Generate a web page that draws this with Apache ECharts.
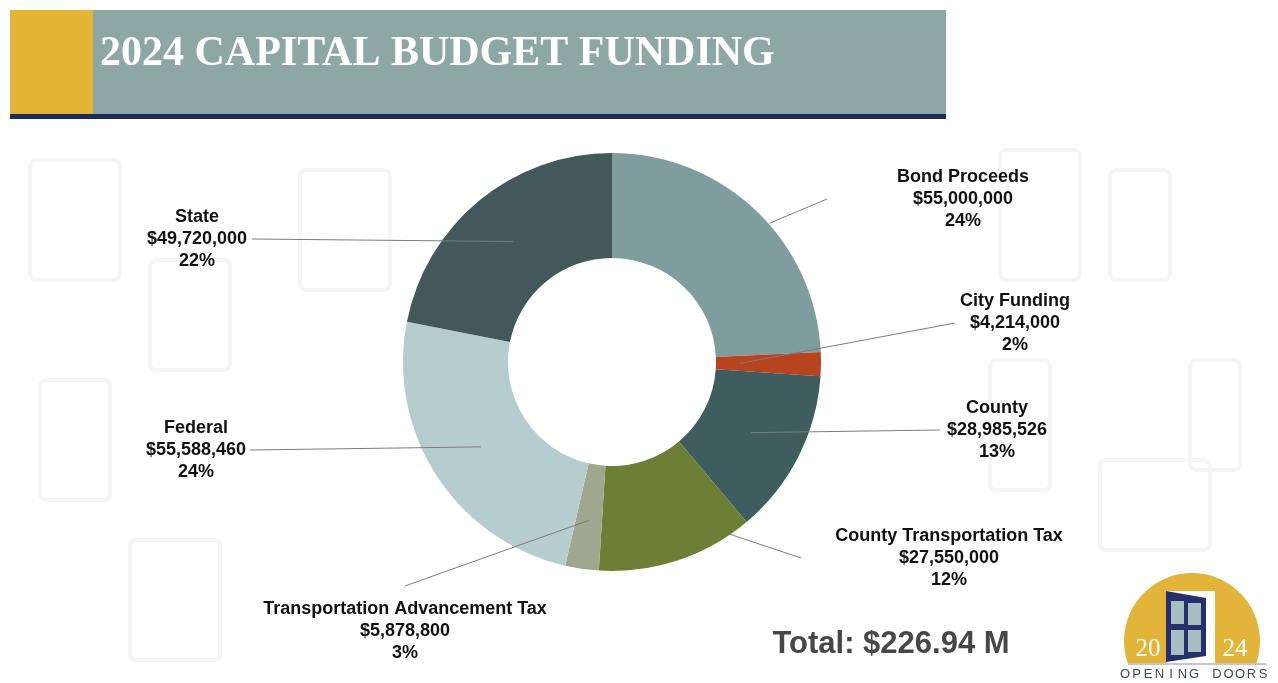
<!DOCTYPE html>
<html>
<head>
<meta charset="utf-8">
<title>2024 Capital Budget Funding</title>
<script src="https://cdn.jsdelivr.net/npm/echarts@6/dist/echarts.min.js"></script>
<style>
  html, body { margin: 0; padding: 0; background: #ffffff; }
  #chart { width: 1278px; height: 683px; }
</style>
</head>
<body>
<div id="chart"></div>
<script>
// Funding sources, clockwise from twelve o'clock
const sources = [
  'Bond Proceeds',
  'City Funding',
  'County',
  'County Transportation Tax',
  'Transportation Advancement Tax',
  'Federal',
  'State'
];
const amounts = [55000000, 4214000, 28985526, 27550000, 5878800, 55588460, 49720000];
const totalText = 'Total: $226.94 M';

// Presentation settings
const sliceColors = ['#7f9d9f', '#b8441f', '#3f5c5e', '#6d7e36', '#9fa88e', '#b6cdd0', '#42585a'];
const ringCenter = [612, 362];
const guideRadius = 156;                                     // radius of the invisible guide pie
const labelSpots = [[963, 199], [1015, 323], [997, 430], [949, 558], [405, 631], [196, 450], [197, 239]];
const leadStartRadius = [210, 128, 156, 208, 160, 156, 156]; // where each leader line leaves its slice
const leadAngleShift = [-5, 0, 0, 16, 0, 0, 0];              // degrees away from the slice mid-angle
const leadSide = ['left', 'left', 'left', 'left', 'top', 'right', 'right'];
const leadGap = [70, 5, 7, 34, 12, 4, 5];

const chart = echarts.init(document.getElementById('chart'), null, { renderer: 'canvas' });

const ringData = sources.map((name, i) => ({ name, value: amounts[i], itemStyle: { color: sliceColors[i] } }));
const guideData = sources.map((name, i) => ({ name, value: amounts[i] }));

// Faint door outlines in the page background
const doorOutline = (x, y, w, h) => ({
  type: 'rect', shape: { x, y, width: w, height: h, r: 6 }, silent: true, z: -10,
  style: { fill: 'none', stroke: '#f6f6f6', lineWidth: 4 }
});

// Emblem caption with wide tracking, one glyph per text element
const caption = 'OPENING DOORS';
const captionGlyphs = caption.split('').map((ch, i) => ({
  type: 'text', x: 1125 + i * 11.5, y: 674,
  style: { text: ch, fill: '#3b4767', font: '13px "Liberation Sans", Arial, sans-serif', textAlign: 'center', textVerticalAlign: 'middle' }
}));

const option = {
  backgroundColor: '#ffffff',
  animation: false,
  graphic: [
    doorOutline(30, 160, 90, 120), doorOutline(150, 260, 80, 110), doorOutline(300, 170, 90, 120),
    doorOutline(40, 380, 70, 120), doorOutline(1000, 150, 80, 130), doorOutline(1110, 170, 60, 110),
    doorOutline(1190, 360, 50, 110), doorOutline(990, 360, 60, 130), doorOutline(130, 540, 90, 120),
    doorOutline(1100, 460, 110, 90),
    // header band
    { type: 'rect', shape: { x: 93, y: 10, width: 853, height: 104 }, style: { fill: '#8da7a5' }, z: 1 },
    { type: 'rect', shape: { x: 10, y: 10, width: 83, height: 105 }, style: { fill: '#e2b537' }, z: 2 },
    { type: 'rect', shape: { x: 10, y: 114, width: 936, height: 5 }, style: { fill: '#1d2a5c' }, z: 2 },
    {
      type: 'text', x: 100, y: 54, z: 3,
      style: {
        text: '2024 CAPITAL BUDGET FUNDING', fill: '#ffffff',
        font: 'bold 42px "Liberation Serif", "Times New Roman", serif',
        textAlign: 'left', textVerticalAlign: 'middle'
      }
    },
    {
      type: 'text', x: 891, y: 644, z: 3,
      style: {
        text: totalText, fill: '#474747',
        font: 'bold 31px "Liberation Sans", Arial, sans-serif',
        textAlign: 'center', textVerticalAlign: 'middle'
      }
    },
    // "Opening Doors" emblem
    {
      type: 'group', z: 3,
      children: [
        { type: 'circle', shape: { cx: 1192, cy: 641, r: 68 }, style: { fill: '#e2b53a' } },
        { type: 'rect', shape: { x: 1110, y: 663, width: 170, height: 30 }, style: { fill: '#ffffff' } },
        { type: 'rect', shape: { x: 1167, y: 591, width: 48, height: 72 }, style: { fill: '#ffffff' } },
        { type: 'polygon', shape: { points: [[1166, 591], [1206, 598], [1206, 656], [1166, 662]] }, style: { fill: '#27306b' } },
        { type: 'rect', shape: { x: 1171, y: 601, width: 13, height: 23 }, style: { fill: '#a7bec3' } },
        { type: 'rect', shape: { x: 1188, y: 603, width: 13, height: 22 }, style: { fill: '#a7bec3' } },
        { type: 'rect', shape: { x: 1171, y: 630, width: 13, height: 25 }, style: { fill: '#a7bec3' } },
        { type: 'rect', shape: { x: 1188, y: 630, width: 13, height: 22 }, style: { fill: '#a7bec3' } },
        { type: 'line', shape: { x1: 1128, y1: 664, x2: 1266, y2: 664 }, style: { stroke: '#8a8f9a', lineWidth: 1 } },
        {
          type: 'text', x: 1148, y: 662,
          style: { text: '20', fill: '#ffffff', font: '25px "Liberation Serif", serif', textAlign: 'center', textVerticalAlign: 'bottom' }
        },
        {
          type: 'text', x: 1235, y: 662,
          style: { text: '24', fill: '#ffffff', font: '25px "Liberation Serif", serif', textAlign: 'center', textVerticalAlign: 'bottom' }
        }
      ].concat(captionGlyphs)
    }
  ],
  series: [
    {
      name: 'Funding',
      type: 'pie',
      center: ringCenter,
      radius: [104, 209],
      startAngle: 90,
      clockwise: true,
      silent: true,
      z: 2,
      label: { show: false },
      labelLine: { show: false },
      itemStyle: { borderWidth: 0 },
      data: ringData
    },
    {
      // transparent copy of the ring; its layout supplies the leader-line start angles
      name: 'Labels',
      type: 'pie',
      center: ringCenter,
      radius: [0, guideRadius],
      startAngle: 90,
      clockwise: true,
      silent: true,
      z: 3,
      itemStyle: { color: 'rgba(0,0,0,0)' },
      label: {
        show: true,
        position: 'outside',
        color: '#111111',
        fontFamily: '"Liberation Sans", Arial, sans-serif',
        fontWeight: 'bold',
        fontSize: 18,
        lineHeight: 22,
        align: 'center',
        formatter: p => p.name + '\n$' + p.value.toLocaleString('en-US') + '\n' + Math.round(p.percent) + '%'
      },
      labelLine: {
        show: true,
        length: 8,
        length2: 0,
        smooth: false,
        lineStyle: { color: '#7c7c7c', width: 1 }
      },
      labelLayout: params => {
        const i = params.dataIndex;
        const spot = labelSpots[i];
        const w = params.labelRect.width;
        const h = params.labelRect.height;
        // start: slice mid-angle point from the pie layout, turned and moved to the chosen radius
        const p0 = params.labelLinePoints[0];
        const a = Math.atan2(-(p0[1] - ringCenter[1]), p0[0] - ringCenter[0]) + leadAngleShift[i] * Math.PI / 180;
        const r = leadStartRadius[i];
        const start = [ringCenter[0] + r * Math.cos(a), ringCenter[1] - r * Math.sin(a)];
        // end: just short of the label's chosen side
        let end;
        if (leadSide[i] === 'left') end = [spot[0] - w / 2 - leadGap[i], spot[1]];
        else if (leadSide[i] === 'right') end = [spot[0] + w / 2 + leadGap[i], spot[1]];
        else end = [spot[0], spot[1] - h / 2 - leadGap[i]];
        return {
          x: spot[0], y: spot[1], align: 'center', verticalAlign: 'middle',
          labelLinePoints: [start, end, end]
        };
      },
      data: guideData
    }
  ]
};

chart.setOption(option);
</script>
</body>
</html>
